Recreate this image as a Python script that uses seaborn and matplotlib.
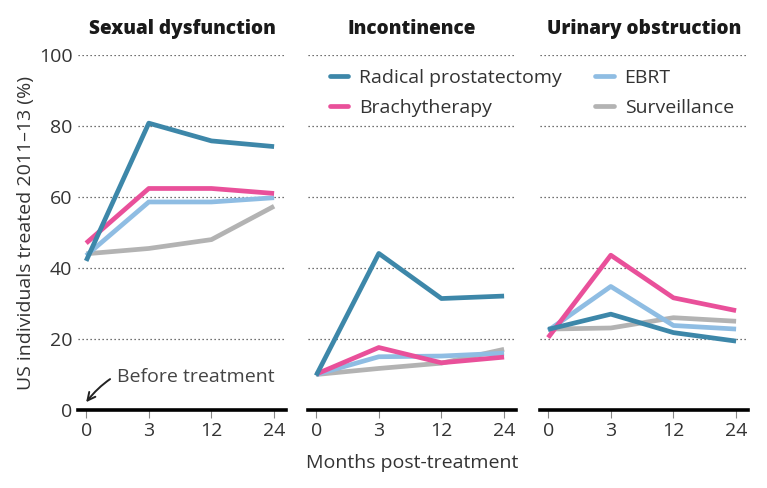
import numpy as np
import pandas as pd
import matplotlib
matplotlib.use("Agg")
import matplotlib.pyplot as plt
import seaborn as sns

months = ["0", "3", "12", "24"]
treatments = ["Radical prostatectomy", "Brachytherapy", "EBRT", "Surveillance"]
colors = ["#3d87a9", "#e9509a", "#8fbde3", "#b3b3b3"]
panels = ["Sexual dysfunction", "Incontinence", "Urinary obstruction"]

# values per treatment, same order as `treatments`
sexual = [
    [42, 80.8, 75.8, 74.2],
    [47, 62.4, 62.4, 61.0],
    [43.5, 58.6, 58.6, 59.8],
    [44, 45.5, 48, 57.4],
]
incontinence = [
    [9.7, 44.1, 31.4, 32.1],
    [10.1, 17.6, 13.3, 14.9],
    [10, 15.0, 15.2, 16.0],
    [10, 11.7, 13.2, 17.1],
]
obstruction = [
    [22.7, 27.0, 21.8, 19.4],
    [20.4, 43.6, 31.6, 28.0],
    [22.4, 34.8, 23.8, 22.8],
    [22.8, 23.1, 26.0, 25.0],
]

rows = []
for panel, vals in zip(panels, [sexual, incontinence, obstruction]):
    for t, series in zip(treatments, vals):
        for i, v in enumerate(series):
            rows.append({"panel": panel, "treatment": t, "pos": i, "value": v})
df = pd.DataFrame(rows)

sns.set_style("white")
plt.rcParams["font.family"] = ["Open Sans", "DejaVu Sans"]

fig = plt.figure(figsize=(7.67, 4.88), dpi=100)
lefts = [78 / 767, 308 / 767, 540 / 767]
w = 208 / 767
bottom = 1 - 410 / 488
h = (410 - 55) / 488
axes = [fig.add_axes([l, bottom, w, h]) for l in lefts]

for k, (ax, panel) in enumerate(zip(axes, panels)):
    for y in [20, 40, 60, 80, 100]:
        ax.axhline(y, color="#444444", lw=0.9, ls=(0, (1, 2.2)), zorder=0)
    sns.lineplot(data=df[df.panel == panel], x="pos", y="value", hue="treatment",
                 hue_order=treatments[::-1], palette=colors[::-1], lw=3.4,
                 ax=ax, legend=False, solid_capstyle="butt", zorder=3)
    ax.set_xlim(-0.13, 3.19)
    ax.set_ylim(0, 100)
    ax.set_xticks(range(4))
    ax.set_xticklabels(months)
    ax.set_title(panel, fontsize=13.7, fontweight="heavy", color="#1a1a1a", pad=15)
    for s in ["top", "right", "left"]:
        ax.spines[s].set_visible(False)
    ax.spines["bottom"].set_color("black")
    ax.spines["bottom"].set_linewidth(2.6)
    ax.spines["bottom"].set_zorder(5)
    ax.tick_params(axis="x", length=6, width=0.8, color="#888888", labelsize=14,
                   labelcolor="#333333", pad=3, bottom=True)
    ax.set_xlabel("")
    ax.set_ylabel("")
    if k == 0:
        ax.set_yticks([0, 20, 40, 60, 80, 100])
        ax.tick_params(axis="y", length=0, labelsize=14, labelcolor="#333333", pad=4)
    else:
        ax.set_yticks([])

axes[0].set_ylabel("US individuals treated 2011\u201313 (%)", fontsize=14, color="#333333",
                   labelpad=3)
axes[1].set_xlabel("Months post-treatment", fontsize=14, color="#333333", labelpad=10)

axes[0].annotate("Before treatment", xy=(0.0, 2.2), xytext=(0.49, 9.4),
                 fontsize=14, color="#444444", va="center", ha="left",
                 arrowprops=dict(arrowstyle="->", color="#222222", lw=1.4,
                                 connectionstyle="arc3,rad=0.4", shrinkA=3, shrinkB=0))

handles = [plt.Line2D([], [], color=c, lw=3.4) for c in colors]
fig.legend(handles, treatments, loc="upper left", ncol=2,
           bbox_to_anchor=(312 / 767, 1 - 51 / 488), frameon=False,
           fontsize=14, handlelength=0.95, handletextpad=0.55, columnspacing=1.75,
           labelspacing=0.62, labelcolor="#333333")

fig.savefig("out.png", dpi=100, facecolor="white")
